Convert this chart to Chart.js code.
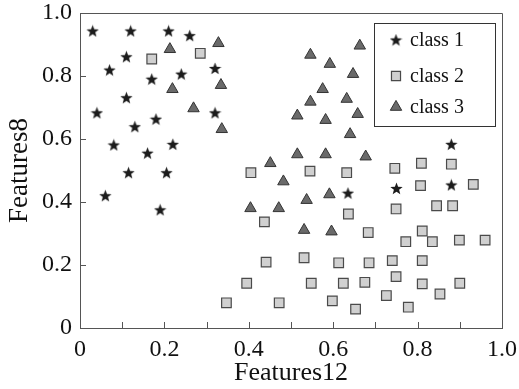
<!DOCTYPE html>
<html>
<head>
<meta charset="utf-8">
<script src="https://cdn.jsdelivr.net/npm/chart.js@4/dist/chart.umd.min.js"></script>
<style>
  html, body { margin: 0; padding: 0; background: #fff; }
  #wrap { width: 519px; height: 389px; }
</style>
</head>
<body>
<div id="wrap"><canvas id="scatter"></canvas></div>
<script>
// 数据
const class1X = [0.03, 0.12, 0.21, 0.26, 0.11, 0.07, 0.17, 0.24, 0.32, 0.11, 0.04, 0.32, 0.18, 0.13, 0.08, 0.22, 0.16, 0.115, 0.205, 0.06, 0.19, 0.635, 0.75, 0.88, 0.88];
const class1Y = [0.943, 0.943, 0.943, 0.928, 0.861, 0.819, 0.790, 0.806, 0.824, 0.731, 0.683, 0.683, 0.663, 0.639, 0.581, 0.583, 0.555, 0.493, 0.493, 0.42, 0.375, 0.428, 0.443, 0.454, 0.583];

const class2X = [0.17, 0.285, 0.405, 0.437, 0.441, 0.395, 0.347, 0.472, 0.545, 0.632, 0.746, 0.809, 0.88, 0.807, 0.932, 0.636, 0.749, 0.845, 0.883, 0.683, 0.772, 0.811, 0.835, 0.899, 0.96, 0.531, 0.613, 0.685, 0.74, 0.811, 0.548, 0.624, 0.675, 0.749, 0.811, 0.90, 0.726, 0.853, 0.598, 0.653, 0.778];
const class2Y = [0.854, 0.872, 0.493, 0.337, 0.209, 0.142, 0.08, 0.08, 0.498, 0.493, 0.507, 0.523, 0.52, 0.452, 0.456, 0.362, 0.378, 0.388, 0.388, 0.303, 0.274, 0.308, 0.274, 0.279, 0.279, 0.223, 0.207, 0.207, 0.214, 0.214, 0.142, 0.142, 0.145, 0.163, 0.14, 0.142, 0.103, 0.108, 0.086, 0.06, 0.066];

const class3X = [0.213, 0.328, 0.219, 0.334, 0.269, 0.336, 0.663, 0.546, 0.592, 0.647, 0.575, 0.546, 0.632, 0.515, 0.582, 0.658, 0.64, 0.515, 0.582, 0.677, 0.451, 0.482, 0.404, 0.471, 0.591, 0.537, 0.531, 0.596];
const class3Y = [0.885, 0.904, 0.758, 0.771, 0.697, 0.631, 0.896, 0.867, 0.838, 0.806, 0.758, 0.718, 0.727, 0.674, 0.660, 0.679, 0.615, 0.551, 0.551, 0.544, 0.523, 0.465, 0.38, 0.38, 0.424, 0.406, 0.311, 0.306];

const classNames = ['class 1', 'class 2', 'class 3'];
const xTickMarks = [0, 0.1, 0.2, 0.3, 0.4, 0.5, 0.6, 0.7, 0.8, 0.9, 1.0];
const yTickMarks = [0, 0.2, 0.4, 0.6, 0.8, 1.0];

const serif = '"Liberation Serif", "DejaVu Serif", serif';

function toPoints(xs, ys) {
    return xs.map((x, i) => ({ x: x, y: ys[i] }));
}

// 五角星点样式
function makeStar(size, color) {
    const c = document.createElement('canvas');
    c.width = size;
    c.height = size;
    const g = c.getContext('2d');
    const cx = size / 2, cy = size / 2 + 0.5;
    const outer = size / 2, inner = outer * 0.42;
    g.beginPath();
    for (let i = 0; i < 10; i++) {
        const r = i % 2 === 0 ? outer : inner;
        const a = -Math.PI / 2 + i * Math.PI / 5;
        const px = cx + r * Math.cos(a), py = cy + r * Math.sin(a);
        if (i === 0) g.moveTo(px, py); else g.lineTo(px, py);
    }
    g.closePath();
    g.fillStyle = color;
    g.fill();
    return c;
}

const starImg = makeStar(13, '#1c1c1c');

// 坐标框上、右边 + 向内刻度
const framePlugin = {
    id: 'frame',
    afterDraw(chart) {
        const { ctx, chartArea: a, scales } = chart;
        ctx.save();
        ctx.strokeStyle = '#555';
        ctx.lineWidth = 1;
        ctx.beginPath();
        ctx.moveTo(a.left, a.top + 0.5);
        ctx.lineTo(a.right + 0.5, a.top + 0.5);
        ctx.lineTo(a.right + 0.5, a.bottom);
        xTickMarks.forEach(v => {
            const px = Math.round(scales.x.getPixelForValue(v)) + 0.5;
            ctx.moveTo(px, a.bottom);
            ctx.lineTo(px, a.bottom - 6);
        });
        yTickMarks.forEach(v => {
            const py = Math.round(scales.y.getPixelForValue(v)) + 0.5;
            ctx.moveTo(a.left, py);
            ctx.lineTo(a.left + 6, py);
        });
        ctx.stroke();
        ctx.restore();
    }
};

// 图例（带边框）
const legendBoxPlugin = {
    id: 'legendBox',
    afterDatasetsDraw(chart) {
        const ctx = chart.ctx;
        const box = { x: 374, y: 23, w: 121, h: 103 };
        const rows = [40, 76, 107];
        ctx.save();
        ctx.fillStyle = '#fff';
        ctx.fillRect(box.x, box.y, box.w, box.h);
        ctx.strokeStyle = '#333';
        ctx.lineWidth = 1;
        ctx.strokeRect(box.x + 0.5, box.y + 0.5, box.w, box.h);
        chart.data.datasets.forEach((ds, i) => {
            const y = rows[i];
            const opts = {
                pointStyle: ds.pointStyle,
                radius: i === 1 ? 6.4 : ds.pointRadius,
                borderWidth: ds.borderWidth,
                rotation: 0
            };
            ctx.fillStyle = ds.backgroundColor;
            ctx.strokeStyle = ds.borderColor;
            ctx.lineWidth = ds.borderWidth;
            Chart.helpers.drawPoint(ctx, opts, 396, y);
            ctx.fillStyle = '#111';
            ctx.font = '20px ' + serif;
            ctx.textBaseline = 'middle';
            ctx.textAlign = 'left';
            ctx.fillText(classNames[i], 410, y + 1);
        });
        ctx.restore();
    }
};

const fmt = v => (v === 0 ? '0' : v.toFixed(1));

new Chart(document.getElementById('scatter'), {
    type: 'scatter',
    data: {
        datasets: [
            {
                label: classNames[0],
                data: toPoints(class1X, class1Y),
                pointStyle: starImg,
                pointRadius: 6,
                backgroundColor: '#1c1c1c',
                borderColor: '#1c1c1c',
                borderWidth: 0
            },
            {
                label: classNames[1],
                data: toPoints(class2X, class2Y),
                pointStyle: 'rect',
                pointRadius: 6.8,
                backgroundColor: '#d0d0d0',
                borderColor: '#4a4a4a',
                borderWidth: 1.2
            },
            {
                label: classNames[2],
                data: toPoints(class3X, class3Y),
                pointStyle: 'triangle',
                pointRadius: 6.6,
                backgroundColor: '#6a6a6a',
                borderColor: '#333',
                borderWidth: 1
            }
        ]
    },
    options: {
        responsive: true,
        maintainAspectRatio: false,
        animation: false,
        layout: { padding: { top: 13, right: 17, left: 0, bottom: 0 } },
        plugins: {
            legend: { display: false },
            tooltip: { enabled: false }
        },
        scales: {
            x: {
                type: 'linear',
                min: 0,
                max: 1,
                ticks: {
                    stepSize: 0.2,
                    padding: 7,
                    color: '#111',
                    font: { family: serif, size: 24 },
                    maxRotation: 0,
                    callback: fmt
                },
                grid: { display: false, drawTicks: false },
                border: { display: true, color: '#555', width: 1 },
                title: {
                    display: true,
                    text: 'Features12',
                    color: '#111',
                    font: { family: serif, size: 26 },
                    padding: { top: 0, bottom: 0 }
                },
                afterFit(scale) {
                    scale.height = 61;
                    scale.paddingLeft = 0;
                    scale.paddingRight = 0;
                }
            },
            y: {
                type: 'linear',
                min: 0,
                max: 1,
                ticks: {
                    stepSize: 0.2,
                    padding: 8,
                    color: '#111',
                    font: { family: serif, size: 24 },
                    callback: fmt
                },
                grid: { display: false, drawTicks: false },
                border: { display: true, color: '#555', width: 1 },
                title: {
                    display: true,
                    text: 'Features8',
                    color: '#111',
                    font: { family: serif, size: 27 },
                    padding: { top: 4, bottom: 0 }
                },
                afterFit(scale) {
                    scale.width = 80;
                    scale.paddingTop = 0;
                    scale.paddingBottom = 0;
                }
            }
        }
    },
    plugins: [framePlugin, legendBoxPlugin]
});
</script>
</body>
</html>
